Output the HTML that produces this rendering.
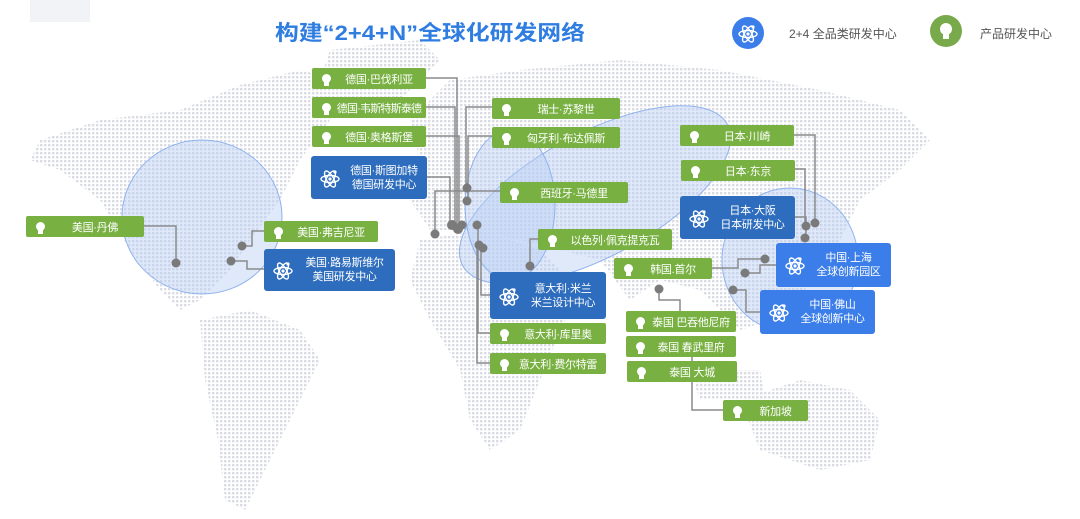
<!DOCTYPE html>
<html><head><meta charset="utf-8"><style>
html,body{margin:0;padding:0;background:#fff;}
body{width:1080px;height:519px;overflow:hidden;position:relative;font-family:"Liberation Sans","Noto Sans CJK SC",sans-serif;}
svg{position:absolute;left:0;top:0;}
.b{position:absolute;color:#fff;display:flex;align-items:center;font-size:11px;box-sizing:border-box;border-radius:2px;}
.g{background:#78b042;height:21px;}
.d{background:#2e6dbd;border-radius:3px;line-height:14px;}
.c{background:#3b7ee9;border-radius:3px;line-height:14px;}
.b .t{flex:1;text-align:center;white-space:nowrap;letter-spacing:-0.3px}
.bulb{width:12px;height:14px;margin-left:8px;position:relative;flex:none}
.bulb:before{content:"";position:absolute;left:2px;top:2px;width:9px;height:9px;border-radius:50%;background:#fff;}
.bulb:after{content:"";position:absolute;left:4px;top:10px;width:5px;height:4px;background:#fff;}
.atom{width:22px;margin-left:8px;flex:none}
</style></head><body>
<svg width="1080" height="519" viewBox="0 0 1080 519">
<defs>
<pattern id="dot" width="4" height="4" patternUnits="userSpaceOnUse"><rect width="2.4" height="2.4" fill="#d9dde3"/></pattern>
<g id="at"><ellipse cx="0" cy="0" rx="9" ry="3.5" fill="none" stroke="#fff" stroke-width="1.4"/><ellipse cx="0" cy="0" rx="9" ry="3.5" fill="none" stroke="#fff" stroke-width="1.4" transform="rotate(60)"/><ellipse cx="0" cy="0" rx="9" ry="3.5" fill="none" stroke="#fff" stroke-width="1.4" transform="rotate(-60)"/><circle r="1.6" fill="#fff"/><circle cx="5" cy="-7" r="1.6" fill="#fff"/></g>
</defs>
<rect x="30" y="0" width="60" height="22" fill="#f1f3f6"/>
<g fill="url(#dot)">
<polygon points="40,140 100,120 180,110 240,85 300,70 340,80 330,120 300,160 280,200 250,240 230,270 200,300 180,310 160,290 130,250 100,200 60,170 30,160"/>
<polygon points="330,50 420,40 440,60 400,100 350,110 320,80"/>
<polygon points="200,320 250,310 300,330 320,360 290,420 265,470 245,510 225,500 218,440 205,380"/>
<polygon points="410,120 450,80 520,70 620,60 720,70 820,90 900,110 930,140 900,170 860,200 840,240 820,260 800,300 770,320 740,330 700,290 660,280 630,300 600,260 560,250 520,240 470,230 430,230 410,200 420,160"/>
<polygon points="420,240 480,230 540,250 580,290 560,330 540,380 520,430 490,450 470,420 460,370 430,320 410,280"/>
<polygon points="740,400 800,380 850,390 880,420 870,460 820,470 760,450"/>
<polygon points="690,370 760,370 765,400 700,400"/>
</g>
<g fill="#b9cff5" fill-opacity="0.45" stroke="#8fb2ef" stroke-width="1">
<ellipse cx="202" cy="217" rx="80" ry="77"/>
<ellipse cx="595" cy="195" rx="150" ry="62" transform="rotate(-28 595 195)"/>
<ellipse cx="510" cy="205" rx="45" ry="75"/>
<ellipse cx="790" cy="260" rx="68" ry="72"/>
</g>
<g fill="none" stroke="#8a8a8a" stroke-width="1.5">
<polyline points="426,78 457,78 457,228"/>
<polyline points="426,107 455,107 455,228"/>
<polyline points="426,136 459,136 459,228"/>
<polyline points="427,177 450,177 450,228"/>
<polyline points="500,191 435,191 435,234"/>
<polyline points="492,107 466,107 466,188"/>
<polyline points="492,136 468,136 468,201"/>
<polyline points="538,239 530,239 530,266"/>
<polyline points="490,295 481,295 481,247"/>
<polyline points="490,333 478,333 478,225"/>
<polyline points="490,363 477,363 477,247"/>
<polyline points="144,226 176,226 176,263"/>
<polyline points="264,231 252,231 252,246 242,246"/>
<polyline points="264,269 247,269 247,261 231,261"/>
<polyline points="794,135 815,135 815,222"/>
<polyline points="795,169 805,169 805,226"/>
<polyline points="795,217 806,217 806,238"/>
<polyline points="712,268 738,268 738,259 765,259"/>
<polyline points="776,265 760,265 760,273 745,273"/>
<polyline points="760,312 746,312 746,290 733,290"/>
<polyline points="659,289 659,300 680,300 680,311"/>
<polyline points="692,346 692,410 723,410"/>
</g>
<g fill="#7a7a7a">
<circle cx="176" cy="263" r="4.5"/><circle cx="242" cy="246" r="4.5"/><circle cx="231" cy="261" r="4.5"/>
<circle cx="435" cy="234" r="4.5"/><circle cx="452" cy="225" r="5"/><circle cx="458" cy="229" r="5"/><circle cx="462" cy="225" r="4.5"/>
<circle cx="467" cy="188" r="4.5"/><circle cx="467" cy="201" r="4.5"/><circle cx="477" cy="225" r="4.5"/>
<circle cx="479" cy="245" r="4.5"/><circle cx="483" cy="248" r="4.5"/><circle cx="530" cy="266" r="4.5"/>
<circle cx="815" cy="223" r="4.5"/><circle cx="806" cy="226" r="4.5"/><circle cx="805" cy="238" r="4.5"/>
<circle cx="765" cy="259" r="4.5"/><circle cx="745" cy="273" r="4.5"/><circle cx="733" cy="290" r="4.5"/>
<circle cx="659" cy="289" r="4.5"/>
</g>
<text x="430" y="40" text-anchor="middle" font-family="Liberation Sans,Noto Sans CJK SC,sans-serif" font-size="21" font-weight="bold" fill="#2f7de1" textLength="310" lengthAdjust="spacingAndGlyphs">构建“2+4+N”全球化研发网络</text>
<circle cx="748" cy="33" r="16" fill="#3b7ee9"/>
<use href="#at" x="748" y="34"/>
<circle cx="946" cy="31" r="16" fill="#78a94a"/>
<circle cx="946" cy="29" r="6" fill="#fff"/><rect x="943" y="34" width="6" height="5" fill="#fff"/>
<text x="789" y="38" font-size="12" fill="#555" font-family="Liberation Sans,Noto Sans CJK SC,sans-serif">2+4 全品类研发中心</text>
<text x="980" y="38" font-size="12" fill="#555" font-family="Liberation Sans,Noto Sans CJK SC,sans-serif">产品研发中心</text>
</svg>

<div class="b g" style="left:312px;top:68px;width:114px"><span class="bulb"></span><span class="t">德国·巴伐利亚</span></div>
<div class="b g" style="left:312px;top:97px;width:114px"><span class="bulb"></span><span class="t" style="letter-spacing:-0.8px">德国·韦斯特斯泰德</span></div>
<div class="b g" style="left:312px;top:126px;width:114px"><span class="bulb"></span><span class="t">德国·奥格斯堡</span></div>
<div class="b d" style="left:311px;top:156px;width:116px;height:43px"><svg class="atom" width="22" height="22" style="position:static"><use href="#at" x="11" y="12"/></svg><span class="t">德国·斯图加特<br>德国研发中心</span></div>
<div class="b g" style="left:492px;top:98px;width:128px"><span class="bulb"></span><span class="t">瑞士·苏黎世</span></div>
<div class="b g" style="left:492px;top:127px;width:128px"><span class="bulb"></span><span class="t">匈牙利·布达佩斯</span></div>
<div class="b g" style="left:500px;top:182px;width:128px"><span class="bulb"></span><span class="t">西班牙·马德里</span></div>
<div class="b g" style="left:26px;top:216px;width:118px"><span class="bulb"></span><span class="t">美国·丹佛</span></div>
<div class="b g" style="left:264px;top:221px;width:114px"><span class="bulb"></span><span class="t">美国·弗吉尼亚</span></div>
<div class="b d" style="left:264px;top:249px;width:131px;height:42px"><svg class="atom" width="22" height="22" style="position:static"><use href="#at" x="11" y="12"/></svg><span class="t">美国·路易斯维尔<br>美国研发中心</span></div>
<div class="b g" style="left:538px;top:229px;width:134px"><span class="bulb"></span><span class="t">以色列·佩克提克瓦</span></div>
<div class="b d" style="left:490px;top:272px;width:116px;height:47px"><svg class="atom" width="22" height="22" style="position:static"><use href="#at" x="11" y="12"/></svg><span class="t">意大利·米兰<br>米兰设计中心</span></div>
<div class="b g" style="left:490px;top:323px;width:116px"><span class="bulb"></span><span class="t">意大利·库里奥</span></div>
<div class="b g" style="left:490px;top:353px;width:116px"><span class="bulb"></span><span class="t">意大利·费尔特雷</span></div>
<div class="b g" style="left:680px;top:125px;width:114px"><span class="bulb"></span><span class="t">日本·川崎</span></div>
<div class="b g" style="left:681px;top:160px;width:114px"><span class="bulb"></span><span class="t">日本·东京</span></div>
<div class="b d" style="left:680px;top:196px;width:115px;height:43px"><svg class="atom" width="22" height="22" style="position:static"><use href="#at" x="11" y="12"/></svg><span class="t">日本·大阪<br>日本研发中心</span></div>
<div class="b c" style="left:776px;top:243px;width:115px;height:44px"><svg class="atom" width="22" height="22" style="position:static"><use href="#at" x="11" y="12"/></svg><span class="t">中国·上海<br>全球创新园区</span></div>
<div class="b g" style="left:614px;top:258px;width:98px"><span class="bulb"></span><span class="t">韩国.首尔</span></div>
<div class="b c" style="left:760px;top:290px;width:115px;height:44px"><svg class="atom" width="22" height="22" style="position:static"><use href="#at" x="11" y="12"/></svg><span class="t">中国·佛山<br>全球创新中心</span></div>
<div class="b g" style="left:626px;top:311px;width:110px"><span class="bulb"></span><span class="t">泰国 巴吞他尼府</span></div>
<div class="b g" style="left:626px;top:336px;width:110px"><span class="bulb"></span><span class="t">泰国 春武里府</span></div>
<div class="b g" style="left:627px;top:361px;width:110px"><span class="bulb"></span><span class="t">泰国 大城</span></div>
<div class="b g" style="left:723px;top:400px;width:85px"><span class="bulb"></span><span class="t">新加坡</span></div>
</body></html>
